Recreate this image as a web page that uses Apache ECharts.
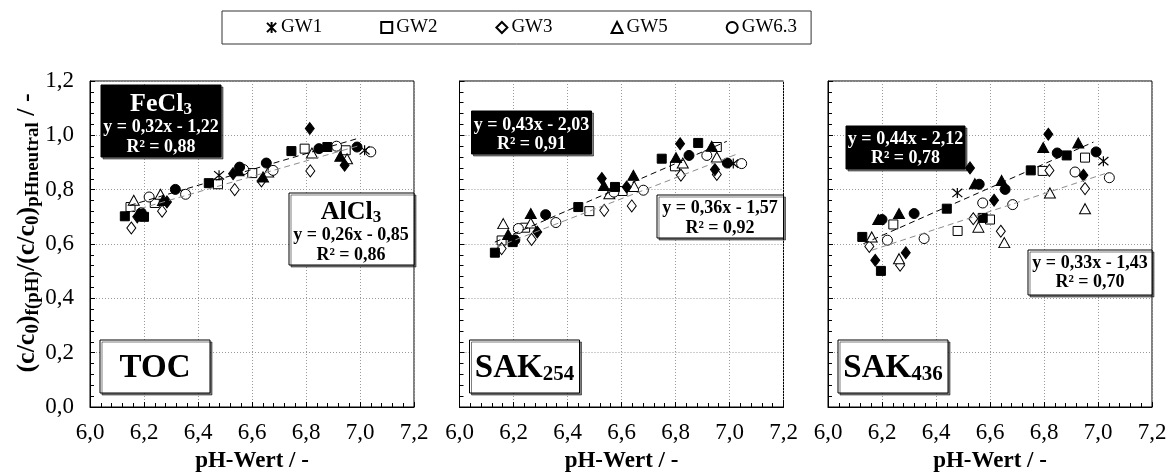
<!DOCTYPE html>
<html><head><meta charset="utf-8">
<script src="https://cdn.jsdelivr.net/npm/echarts@6/dist/echarts.min.js"></script>
<style>html,body{margin:0;padding:0;background:#fff}#c{width:1175px;height:475px}</style>
</head><body><div id="c"></div>
<script>
// ---------- DATA ----------
const seriesNames = ['GW1', 'GW2', 'GW3', 'GW5', 'GW6.3'];
const panelNames = ['TOC', 'SAK254', 'SAK436'];
const xTickValues = [6.0, 6.2, 6.4, 6.6, 6.8, 7.0, 7.2];
const yTickValues = [0.0, 0.2, 0.4, 0.6, 0.8, 1.0, 1.2];

// TOC
const toc_gw1 = [[6.478,0.853],[7.017,0.945]];
const toc_fe_gw2 = [[6.129,0.702],[6.2,0.700],[6.44,0.824],[6.746,0.942],[6.879,0.957]];
const toc_al_gw2 = [[6.15,0.736],[6.24,0.751],[6.474,0.82],[6.601,0.861],[6.795,0.951],[6.947,0.945]];
const toc_fe_gw3 = [[6.175,0.700],[6.285,0.755],[6.53,0.859],[6.814,1.025],[6.943,0.89]];
const toc_al_gw3 = [[6.153,0.659],[6.267,0.721],[6.536,0.80],[6.635,0.832],[6.816,0.869]];
const toc_fe_gw5 = [[6.27,0.76],[6.55,0.87],[6.641,0.847],[6.927,0.923]];
const toc_al_gw5 = [[6.162,0.761],[6.261,0.783],[6.66,0.865],[6.822,0.935],[6.952,0.914]];
const toc_fe_gw63 = [[6.19,0.715],[6.316,0.801],[6.554,0.883],[6.653,0.898],[6.848,0.951],[6.989,0.957]];
const toc_al_gw63 = [[6.219,0.773],[6.354,0.783],[6.569,0.874],[6.678,0.871],[6.913,0.96],[7.04,0.939]];
const toc_fe_line = [[6.147,0.742],[6.99,0.988]];
const toc_al_line = [[6.15,0.72],[6.99,0.96]];

// SAK254
const s254_gw1 = [[7.014,0.896]];
const s254_fe_gw2 = [[6.131,0.568],[6.197,0.607],[6.44,0.736],[6.576,0.81],[6.749,0.914],[6.884,0.972]];
const s254_al_gw2 = [[6.156,0.613],[6.243,0.66],[6.481,0.721],[6.604,0.795],[6.798,0.886],[6.953,0.957]];
const s254_fe_gw3 = [[6.288,0.644],[6.527,0.841],[6.619,0.81],[6.817,0.969],[6.946,0.874]];
const s254_al_gw3 = [[6.156,0.583],[6.267,0.617],[6.536,0.724],[6.638,0.74],[6.82,0.853],[6.953,0.856]];
const s254_fe_gw5 = [[6.18,0.635],[6.264,0.712],[6.535,0.815],[6.644,0.853],[6.802,0.918],[6.934,0.96]];
const s254_al_gw5 = [[6.162,0.675],[6.264,0.677],[6.555,0.785],[6.647,0.812],[6.827,0.898],[6.953,0.92]];
const s254_fe_gw63 = [[6.205,0.615],[6.319,0.708],[6.85,0.926],[6.992,0.898]];
const s254_al_gw63 = [[6.218,0.657],[6.357,0.679],[6.572,0.791],[6.681,0.798],[6.916,0.926],[7.045,0.896]];
const s254_fe_line = [[6.131,0.607],[6.99,0.978]];
const s254_al_line = [[6.138,0.589],[7.033,0.933]];

// SAK436
const s436_gw1 = [[6.479,0.788],[7.02,0.905]];
const s436_fe_gw2 = [[6.127,0.626],[6.196,0.501],[6.44,0.73],[6.573,0.696],[6.751,0.871],[6.884,0.926]];
const s436_al_gw2 = [[6.242,0.672],[6.48,0.648],[6.6,0.69],[6.795,0.869],[6.952,0.918]];
const s436_fe_gw3 = [[6.175,0.54],[6.288,0.568],[6.526,0.88],[6.615,0.761],[6.816,1.004],[6.946,0.853]];
const s436_al_gw3 = [[6.153,0.591],[6.267,0.522],[6.538,0.693],[6.64,0.647],[6.82,0.871],[6.952,0.804]];
const s436_fe_gw5 = [[6.186,0.69],[6.263,0.712],[6.544,0.822],[6.643,0.834],[6.797,0.955],[6.927,0.972]];
const s436_al_gw5 = [[6.162,0.626],[6.263,0.546],[6.557,0.662],[6.653,0.605],[6.822,0.788],[6.952,0.73]];
const s436_fe_gw63 = [[6.2,0.69],[6.319,0.712],[6.56,0.82],[6.656,0.801],[6.849,0.935],[6.993,0.939]];
const s436_al_gw63 = [[6.22,0.614],[6.356,0.62],[6.573,0.751],[6.684,0.745],[6.915,0.865],[7.042,0.844]];
const s436_fe_line = [[6.131,0.601],[6.983,0.975]];
const s436_al_line = [[6.162,0.577],[7.026,0.859]];

// Regression labels
const feEquations = ['y = 0,32x - 1,22', 'y = 0,43x - 2,03', 'y = 0,44x - 2,12'];
const feR2 = ['R² = 0,88', 'R² = 0,91', 'R² = 0,78'];
const alEquations = ['y = 0,26x - 0,85', 'y = 0,36x - 1,57', 'y = 0,33x - 1,43'];
const alR2 = ['R² = 0,86', 'R² = 0,92', 'R² = 0,70'];

// ---------- BUILD ----------
const FONT = '"Liberation Serif","Times New Roman",serif';
const panels = [
  {gw1: toc_gw1, fe: [toc_fe_gw2, toc_fe_gw3, toc_fe_gw5, toc_fe_gw63], al: [toc_al_gw2, toc_al_gw3, toc_al_gw5, toc_al_gw63], feLine: toc_fe_line, alLine: toc_al_line},
  {gw1: s254_gw1, fe: [s254_fe_gw2, s254_fe_gw3, s254_fe_gw5, s254_fe_gw63], al: [s254_al_gw2, s254_al_gw3, s254_al_gw5, s254_al_gw63], feLine: s254_fe_line, alLine: s254_al_line},
  {gw1: s436_gw1, fe: [s436_fe_gw2, s436_fe_gw3, s436_fe_gw5, s436_fe_gw63], al: [s436_al_gw2, s436_al_gw3, s436_al_gw5, s436_al_gw63], feLine: s436_fe_line, alLine: s436_al_line}
];
const gridLefts = [90, 459.5, 828];
const symbols = ['rect', 'diamond', 'triangle', 'circle'];
const sizes = [9, [9, 12], [11, 10], 10];
const ASTER = 'path://M0,0L10,10M10,0L0,10M5,-1L5,11';

const fmt = v => v.toFixed(1).replace('.', ',');

const grids = [], xAxes = [], yAxes = [], series = [];
gridLefts.forEach((l, i) => {
  grids.push({left: l, top: 81, width: 324, height: 326, show: true, borderColor: '#000', borderWidth: 1,
    containLabel: false, outerBoundsMode: 'none'});
  xAxes.push({
    gridIndex: i, type: 'value', min: 6, max: 7.2, interval: 0.2,
    axisLine: {show: true, lineStyle: {color: '#000', width: 1}},
    axisTick: {show: true, inside: true, length: 5, lineStyle: {color: '#000'}},
    minorTick: {show: true, splitNumber: 5, length: 4, lineStyle: {color: '#000'}},
    splitLine: {show: true, lineStyle: {color: '#9a9a9a', type: [1, 2], width: 1}},
    axisLabel: {formatter: v => fmt(v), fontFamily: FONT, fontSize: 23, color: '#000', margin: 14},
    name: 'pH-Wert / -', nameLocation: 'middle', nameGap: 43,
    nameTextStyle: {fontFamily: FONT, fontSize: 23, fontWeight: 'bold', color: '#000'}
  });
  yAxes.push({
    gridIndex: i, type: 'value', min: 0, max: 1.2, interval: 0.2,
    axisLine: {show: true, lineStyle: {color: '#000', width: 1}},
    axisTick: {show: true, inside: true, length: 5, lineStyle: {color: '#000'}},
    minorTick: {show: true, splitNumber: 5, length: 4, lineStyle: {color: '#000'}},
    splitLine: {show: true, lineStyle: {color: '#9a9a9a', type: [1, 2], width: 1}},
    axisLabel: {show: i === 0, formatter: v => fmt(v), fontFamily: FONT, fontSize: 23, color: '#000', margin: 16}
  });
  const p = panels[i];
  // hollow (AlCl3)
  p.al.forEach((d, k) => series.push({
    type: 'scatter', name: seriesNames[k + 1], xAxisIndex: i, yAxisIndex: i, data: d,
    symbol: symbols[k], symbolSize: sizes[k], z: 2, silent: true,
    itemStyle: {color: '#fff', borderColor: '#000', borderWidth: 1, opacity: 1}
  }));
  // filled (FeCl3)
  p.fe.forEach((d, k) => series.push({
    type: 'scatter', name: seriesNames[k + 1] + ' FeCl3', xAxisIndex: i, yAxisIndex: i, data: d,
    symbol: symbols[k], symbolSize: sizes[k], z: 2, silent: true,
    itemStyle: {color: '#000', borderColor: '#000', borderWidth: 1, opacity: 1}
  }));
  series.push({
    type: 'scatter', name: seriesNames[0], xAxisIndex: i, yAxisIndex: i, data: p.gw1,
    symbol: ASTER, symbolSize: 10, z: 2, silent: true,
    itemStyle: {color: 'rgba(0,0,0,0)', borderColor: '#000', borderWidth: 1.2, opacity: 1}
  });
  series.push({type: 'line', xAxisIndex: i, yAxisIndex: i, data: p.feLine, symbol: 'none', silent: true, z: 3,
    lineStyle: {color: '#000', width: 1, type: [6, 4]}});
  series.push({type: 'line', xAxisIndex: i, yAxisIndex: i, data: p.alLine, symbol: 'none', silent: true, z: 3,
    lineStyle: {color: '#8c8c8c', width: 1, type: [6, 4]}});
});

// ---------- annotations ----------
const shadow = {shadowColor: 'rgba(0,0,0,0.5)', shadowOffsetX: 2, shadowOffsetY: 2, shadowBlur: 0};
function rect(x, y, w, h, fill) {
  return {type: 'rect', z: 10, shape: {x, y, width: w, height: h}, style: Object.assign({fill, stroke: '#000', lineWidth: 1}, shadow)};
}
function txt(x, y, text, rich, color) {
  const r = {};
  Object.keys(rich).forEach(k => r[k] = Object.assign({fontFamily: FONT, fontWeight: 'bold', fill: color || '#000'}, rich[k]));
  return {type: 'text', z: 11, x, y, style: {text, rich: r, align: 'center', verticalAlign: 'middle', fill: color || '#000'}};
}
const eqRich = {e: {fontSize: 18}};
const big = {m: {fontSize: 26}, s: {fontSize: 17, padding: [11, 0, 0, 0]}};
const graphic = [];
// TOC panel
graphic.push(rect(101, 85, 120, 72, '#000'));
graphic.push(txt(161, 104, '{m|FeCl}{s|3}', big, '#fff'));
graphic.push(txt(161, 127, '{e|' + feEquations[0] + '}', eqRich, '#fff'));
graphic.push(txt(161, 147, '{e|' + feR2[0] + '}', eqRich, '#fff'));
graphic.push(rect(289, 193, 125, 72, '#fff'));
graphic.push(txt(351, 212, '{m|AlCl}{s|3}', big));
graphic.push(txt(351, 235, '{e|' + alEquations[0] + '}', eqRich));
graphic.push(txt(351, 255, '{e|' + alR2[0] + '}', eqRich));
// SAK254 panel
graphic.push(rect(471.5, 111, 120, 43, '#000'));
graphic.push(txt(531.5, 125, '{e|' + feEquations[1] + '}', eqRich, '#fff'));
graphic.push(txt(531.5, 144, '{e|' + feR2[1] + '}', eqRich, '#fff'));
graphic.push(rect(657, 195, 126.5, 43, '#fff'));
graphic.push(txt(720, 208, '{e|' + alEquations[1] + '}', eqRich));
graphic.push(txt(720, 228, '{e|' + alR2[1] + '}', eqRich));
// SAK436 panel
graphic.push(rect(846, 126, 119, 43, '#000'));
graphic.push(txt(905.5, 139.5, '{e|' + feEquations[2] + '}', eqRich, '#fff'));
graphic.push(txt(905.5, 158.5, '{e|' + feR2[2] + '}', eqRich, '#fff'));
graphic.push(rect(1028, 250, 124, 45, '#fff'));
graphic.push(txt(1090, 263, '{e|' + alEquations[2] + '}', eqRich));
graphic.push(txt(1090, 282, '{e|' + alR2[2] + '}', eqRich));
// panel name boxes
const nameRich = {m: {fontSize: 33}, s: {fontSize: 21, padding: [14, 0, 0, 0]}};
const nameText = ['{m|TOC}', '{m|SAK}{s|254}', '{m|SAK}{s|436}'];
gridLefts.forEach((l, i) => {
  graphic.push(rect(l + 10, 340, 110, 53, '#fff'));
  graphic.push(txt(l + 65, 368, nameText[i], nameRich));
});
// y axis title
graphic.push({
  type: 'text', z: 11, x: 27, y: 233, rotation: Math.PI / 2,
  style: {
    text: '{m|(c/c}{s|0}{m|)}{s|f(pH)}{m|/(c/c}{s|0}{m|)}{s|pHneutral}{m| / -}',
    align: 'center', verticalAlign: 'middle',
    rich: {
      m: {fontFamily: FONT, fontWeight: 'bold', fontSize: 26, fill: '#000'},
      s: {fontFamily: FONT, fontWeight: 'bold', fontSize: 19, fill: '#000', padding: [12, 0, 0, 0]}
    }
  }
});

const chart = echarts.init(document.getElementById('c'), null, {renderer: 'canvas'});
chart.setOption({
  animation: false,
  backgroundColor: '#fff',
  grid: grids, xAxis: xAxes, yAxis: yAxes, series,
  legend: {
    data: seriesNames, left: 222, top: 11, selectedMode: false,
    itemWidth: 11, itemHeight: 11, itemGap: 58,
    padding: [7, 14, 7, 44], borderColor: '#333', borderWidth: 1,
    textStyle: {fontFamily: FONT, fontSize: 19, color: '#000', padding: [0, 0, 0, -1]}
  },
  graphic
});
</script></body></html>
